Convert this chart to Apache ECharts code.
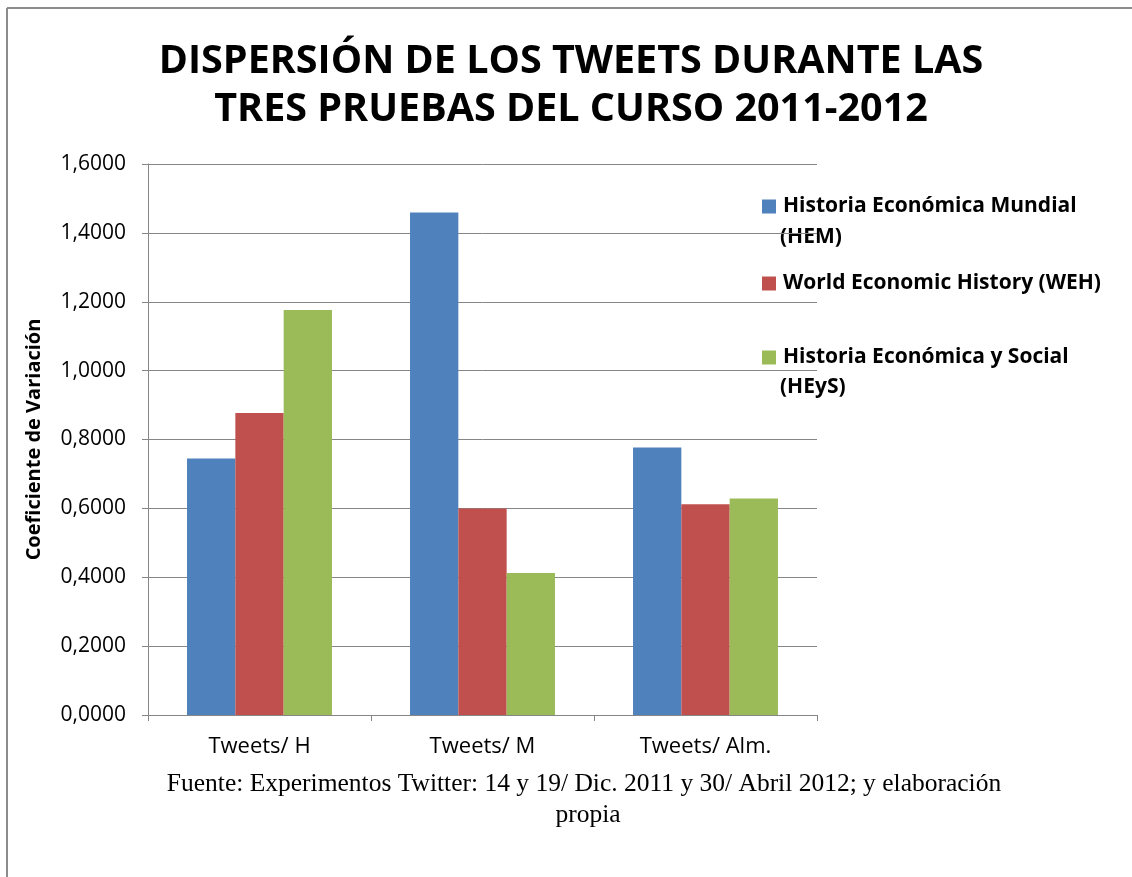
<!DOCTYPE html>
<html>
<head>
<meta charset="utf-8">
<script src="https://cdn.jsdelivr.net/npm/echarts@6/dist/echarts.min.js"></script>
<style>
html,body{margin:0;padding:0;background:#fff;}
#chart{width:1132px;height:877px;}
</style>
</head>
<body>
<div id="chart"></div>
<script>
var categories = ['Tweets/ H', 'Tweets/ M', 'Tweets/ Alm.'];
var seriesNames = ['Historia Económica Mundial (HEM)', 'World Economic History (WEH)', 'Historia Económica y Social (HEyS)'];
var hemValues = [0.7446, 1.4590, 0.7770];
var wehValues = [0.8770, 0.6000, 0.6120];
var heysValues = [1.1760, 0.4120, 0.6290];
var yTicks = [0, 0.2, 0.4, 0.6, 0.8, 1.0, 1.2, 1.4, 1.6];
var titleLines = ['DISPERSIÓN DE LOS TWEETS DURANTE LAS', 'TRES PRUEBAS DEL CURSO 2011-2012'];

var colors = ['#4F81BD', '#C0504D', '#9BBB59'];
var sans = '"Open Sans", "DejaVu Sans", sans-serif';
var serif = '"Liberation Serif", "Times New Roman", serif';
var firstLines = {};
firstLines[seriesNames[0]] = 'Historia Económica Mundial';
firstLines[seriesNames[1]] = 'World Economic History (WEH)';
firstLines[seriesNames[2]] = 'Historia Económica y Social';

function legendAt(name, top) {
  return {
    data: [name], left: 757, top: top, orient: 'vertical',
    itemWidth: 14, itemHeight: 14, itemGap: 0, icon: 'rect',
    selectedMode: false,
    formatter: function (n) { return firstLines[n]; },
    textStyle: { fontFamily: sans, fontWeight: 'bold', fontSize: 21, color: '#000', padding: [0,0,0,2] }
  };
}

var chart = echarts.init(document.getElementById('chart'));
chart.setOption({
  backgroundColor: '#fff',
  animation: false,
  color: colors,
  legend: [
    legendAt(seriesNames[0], 191),
    legendAt(seriesNames[1], 268),
    legendAt(seriesNames[2], 342)
  ],
  grid: { left: 148, right: 315, top: 164, bottom: 162, containLabel: false },
  xAxis: {
    type: 'category', data: categories,
    axisLine: { lineStyle: { color: '#868686', width: 1 } },
    axisTick: { show: true, alignWithLabel: false, length: 6, lineStyle: { color: '#868686' } },
    axisLabel: { margin: 21, fontFamily: sans, fontSize: 22, color: '#000' }
  },
  yAxis: {
    type: 'value', min: 0, max: 1.6, interval: 0.2,
    name: 'Coeficiente de Variación', nameLocation: 'middle', nameGap: 104, nameRotate: 90,
    nameTextStyle: { fontFamily: sans, fontWeight: 'bold', fontSize: 20, color: '#000' },
    axisLine: { show: true, lineStyle: { color: '#868686', width: 1 } },
    axisTick: { show: true, length: 6, inside: false, lineStyle: { color: '#868686' } },
    splitLine: { lineStyle: { color: '#868686', width: 1 } },
    axisLabel: {
      margin: 22, fontFamily: sans, fontSize: 21, color: '#000',
      formatter: function (v) { return v.toFixed(4).replace('.', ','); }
    }
  },
  series: [
    { name: seriesNames[0], type: 'bar', data: hemValues, barGap: '0%', barCategoryGap: '35%' },
    { name: seriesNames[1], type: 'bar', data: wehValues, barGap: '0%', barCategoryGap: '35%' },
    { name: seriesNames[2], type: 'bar', data: heysValues, barGap: '0%', barCategoryGap: '35%' }
  ],
  graphic: [
    { type: 'line', shape: { x1: 7, y1: 8, x2: 1132, y2: 8 }, style: { stroke: '#8c8c8c', lineWidth: 2 } },
    { type: 'line', shape: { x1: 7, y1: 8, x2: 7, y2: 877 }, style: { stroke: '#8c8c8c', lineWidth: 2 } },
    { type: 'text', x: 571, y: 62, style: { text: titleLines[0], font: 'bold 39.5px ' + sans, fill: '#000', textAlign: 'center', textVerticalAlign: 'middle' } },
    { type: 'text', x: 571, y: 110, style: { text: titleLines[1], font: 'bold 39.5px ' + sans, fill: '#000', textAlign: 'center', textVerticalAlign: 'middle' } },
    { type: 'text', left: 780, top: 227, style: { text: '(HEM)', font: 'bold 21px ' + sans, fill: '#000' } },
    { type: 'text', left: 780, top: 377, style: { text: '(HEyS)', font: 'bold 21px ' + sans, fill: '#000' } },
    { type: 'text', x: 584, y: 784, style: { text: 'Fuente: Experimentos Twitter: 14 y 19/ Dic. 2011 y 30/ Abril 2012; y elaboración', font: '25.5px ' + serif, fill: '#000', textAlign: 'center', textVerticalAlign: 'middle' } },
    { type: 'text', x: 588, y: 815, style: { text: 'propia', font: '25.5px ' + serif, fill: '#000', textAlign: 'center', textVerticalAlign: 'middle' } }
  ]
});
</script>
</body>
</html>
